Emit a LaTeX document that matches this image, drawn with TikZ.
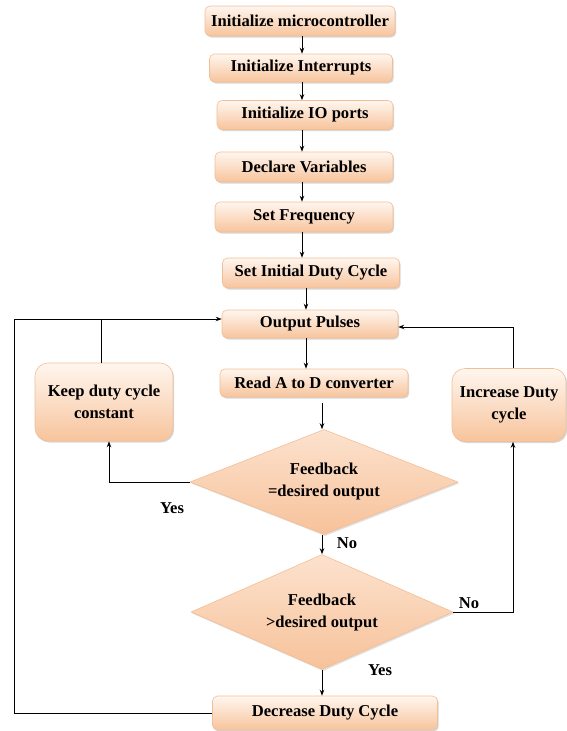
\documentclass[tikz,border=0pt]{standalone}
\usepackage{fontspec}
\setmainfont{Liberation Serif}
\usetikzlibrary{arrows.meta,shapes.geometric,shadows,calc}
\definecolor{boxtop}{HTML}{FFF6EF}
\definecolor{boxbot}{HTML}{F7C49C}
\definecolor{boxline}{HTML}{F2BE96}
\definecolor{dtop}{HTML}{FCE2CE}
\definecolor{dbot}{HTML}{F7C29A}
\tikzset{
  every node/.style={font=\fontsize{16.6}{22}\selectfont\bfseries, text=black},
  boxstyle/.style={draw=boxline, line width=0.6pt, rounded corners=5pt, top color=boxtop, bottom color=boxbot,
    inner sep=0pt, align=center,
    drop shadow={shadow xshift=1.2pt, shadow yshift=-1.5pt, fill=black!35, opacity=0.45}},
  bigbox/.style={boxstyle, rounded corners=13pt},
  decision/.style={diamond, draw=boxline, line width=0.6pt, top color=dtop, bottom color=dbot,
    inner sep=0pt, align=center, aspect=2.5,
    drop shadow={shadow xshift=1.2pt, shadow yshift=-1.5pt, fill=black!30, opacity=0.4}},
  conn/.style={draw=black, line width=0.9pt},
  arr/.style={conn, -{Stealth[length=6pt,width=4.5pt]}},
  lbl/.style={inner sep=0pt}
}
\begin{document}
\begin{tikzpicture}[x=1pt,y=-1pt]
\useasboundingbox (0,0) rectangle (566,731);
% top column
\node[boxstyle, minimum width=190pt, minimum height=30pt] (b1) at (300,21) {Initialize microcontroller};
\node[boxstyle, minimum width=183pt, minimum height=28pt] (b2) at (301,68) {Initialize Interrupts};
\node[boxstyle, minimum width=176pt, minimum height=29pt] (b3) at (305,115) {Initialize IO ports};
\node[boxstyle, minimum width=178pt, minimum height=30pt] (b4) at (304,167) {Declare Variables};
\node[boxstyle, minimum width=178pt, minimum height=30pt] (b5) at (304,217) {Set Frequency};
\node[boxstyle, minimum width=177pt, minimum height=30pt] (b6) at (311,273) {Set Initial Duty Cycle};
\node[boxstyle, minimum width=176pt, minimum height=28pt] (b7) at (310,324) {Output Pulses};
\node[boxstyle, minimum width=188pt, minimum height=28pt] (b8) at (314,383) {Read A to D converter};
% side boxes
\node[bigbox, minimum width=138pt, minimum height=78pt] (k) at (104,402) {Keep duty cycle\\constant};
\node[bigbox, minimum width=114pt, minimum height=73pt] (inc) at (509,405) {Increase Duty\\cycle};
% decisions
\node[decision, minimum width=268pt, minimum height=105pt] (d1) at (324,482) {Feedback\\=desired output};
\node[decision, minimum width=262pt, minimum height=115pt] (d2) at (322,612) {Feedback\\>desired output};
% bottom
\node[boxstyle, minimum width=225pt, minimum height=34pt] (dec) at (325,713) {Decrease Duty Cycle};

% column x coordinates
\coordinate (cA) at (302,0);
\coordinate (cB) at (306,0);
\coordinate (cC) at (322,0);
\coordinate (lx) at (14,0);
\coordinate (kin) at (109,0);
\coordinate (kout) at (101,0);
\coordinate (rx) at (513,0);

\draw[arr] (b1.south -| cA) -- (b2.north -| cA);
\draw[arr] (b2.south -| cA) -- (b3.north -| cA);
\draw[arr] (b3.south -| cA) -- (b4.north -| cA);
\draw[arr] (b4.south -| cA) -- (b5.north -| cA);
\draw[arr] (b5.south -| cA) -- (b6.north -| cA);
\draw[arr] (b6.south -| cB) -- (b7.north -| cB);
\draw[arr] (b7.south -| cB) -- (b8.north -| cB);
\draw[arr] ($(b8.south -| cC)+(0,6)$) -- (d1.north -| cC);
\draw[arr] (d1.south -| cC) -- (d2.north -| cC);
\draw[arr] (d2.south -| cC) -- (dec.north -| cC);

% yes branch to keep
\draw[arr] (d1.west) -- (d1.west -| kin) -- (k.south -| kin);
% keep back to output pulses
\draw[conn] (k.north -| kout) -- ($(b7.west -| kout)+(0,-5)$);
% decrease loop
\draw[arr] (dec.west) -- (dec.west -| lx) -- ($(b7.west -| lx)+(0,-5)$) -- ($(b7.west)+(0,-5)$);
% no branch to increase
\draw[arr] (d2.east) -- (d2.east -| rx) -- (inc.south -| rx);
\draw[arr] (inc.north -| rx) -- ($(b7.east -| rx)+(0,3)$) -- ($(b7.east)+(0,3)$);

% labels
\node[lbl] (yes1) at (172,508) {Yes};
\node[lbl] (no1) at (347,543) {No};
\node[lbl] (no2) at (469,603) {No};
\node[lbl] (yes2) at (380,670) {Yes};
\end{tikzpicture}
\end{document}
